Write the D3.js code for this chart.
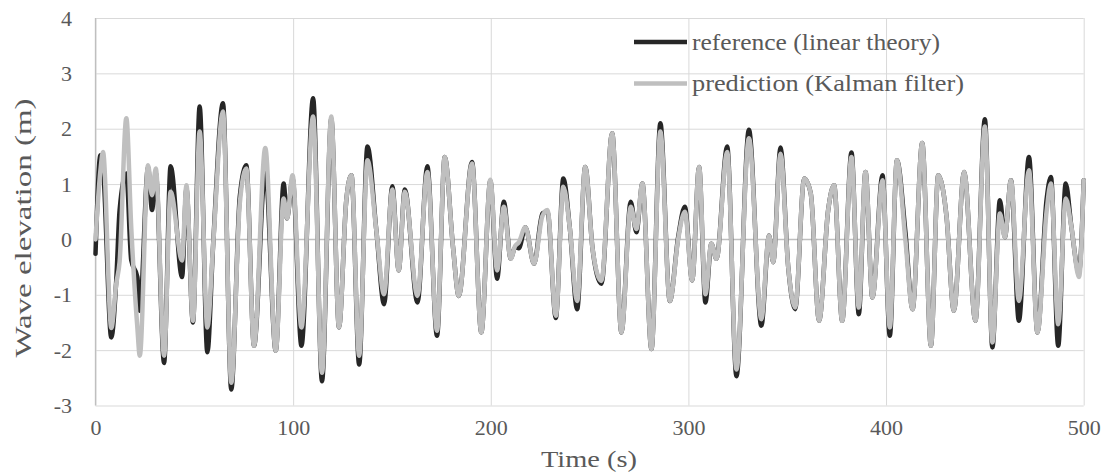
<!DOCTYPE html>
<html>
<head>
<meta charset="utf-8">
<script src="https://cdn.jsdelivr.net/npm/d3@7"></script>
<style>
  html, body { margin: 0; padding: 0; background: #fff; }
  svg { display: block; }
</style>
</head>
<body>
<svg id="chart" width="1110" height="475"></svg>
<script>
// Sample times (s) at crests, troughs and inflections of the record
const times = [0, 2.5, 3.8, 8.0, 10.5, 12.2, 15.6, 18.1, 21.2, 22.4,
  26.6, 28.6, 30.5, 34.7, 38.0, 43.8, 46.0, 49.3, 52.7, 56.6,
  59.5, 64.5, 68.7, 73.0, 76.3, 80.2, 85.9, 91.2, 95.2, 96.9,
  99.7, 104.2, 110.1, 114.6, 119.3, 123.2, 126.9, 129.5, 133.4, 137.6,
  142.1, 146.0, 150.2, 153.4, 156.5, 162.9, 167.9, 172.8, 176.7, 180.9,
  183.8, 190.5, 195.2, 199.8, 203.2, 206.6, 210.1, 212.3, 214.2, 217.5,
  221.9, 226.1, 228.7, 232.9, 236.7, 240.0, 243.7, 247.8, 251.5, 256.0,
  261.4, 266.1, 270.8, 273.7, 276.7, 281.3, 285.8, 290.6, 294.8, 298.2,
  301.9, 305.4, 308.6, 311.6, 314.2, 319.6, 324.3, 330.6, 336.9, 340.8,
  342.9, 346.6, 350.5, 354.0, 358.6, 361.9, 366.1, 370.7, 373.7, 377.8,
  382.5, 386.2, 389.6, 393.1, 398.2, 401.9, 405.5, 409.8, 413.4, 418.3,
  422.7, 426.4, 430.6, 434.3, 439.5, 445.2, 450.0, 453.8, 457.6, 460.1,
  463.2, 467.2, 472.3, 476.6, 481.2, 483.4, 487.1, 490.9, 493.8, 497.6,
  500];

// Wave elevation (m): linear-theory reference
const referenceElev = [-0.26, 1.52, 1.30, -1.77, -0.74, 0.53, 1.19, -0.38, -0.68, -1.29,
  1.30, 0.53, 1.20, -2.23, 1.32, -0.68, 0.92, -1.50, 2.40, -2.04,
  -0.11, 2.46, -2.71, 0.77, 1.34, -1.92, 1.25, -2.01, 1.01, 0.38,
  1.10, -1.92, 2.55, -2.56, 2.18, -1.59, 0.71, 1.16, -2.26, 1.68,
  0.16, -1.17, 0.96, -0.56, 0.90, -1.14, 1.32, -1.74, 1.49, -0.14,
  -1.02, 1.40, -1.68, 1.06, -0.71, 0.68, -0.35, -0.14, -0.16, 0.22,
  -0.44, 0.47, 0.50, -1.42, 1.10, 0.20, -1.26, 1.31, -0.17, -0.80,
  1.92, -1.68, 0.68, 0.13, 1.01, -1.98, 2.10, -1.11, 0.04, 0.59,
  -0.74, 1.31, -1.14, -0.08, -0.35, 1.68, -2.47, 1.98, -1.56, 0.07,
  -0.41, 1.66, -0.50, -1.26, 1.10, 0.83, -1.47, 0.53, 0.98, -1.47,
  1.57, -1.35, 1.22, -1.05, 1.16, -1.74, 1.43, 0.13, -1.26, 1.74,
  -1.92, 1.16, 0.41, -1.29, 1.22, -1.47, 2.17, -1.95, 0.71, 0.04,
  1.07, -1.47, 1.49, -1.68, 0.71, 1.13, -1.92, 1.01, 0.22, -0.60,
  1.07];

// Wave elevation (m): Kalman filter prediction
const predictionElev = [0.00, 1.25, 1.58, -1.60, -0.80, -0.40, 2.19, 0.20, -1.60, -2.10,
  1.34, 0.80, 1.28, -2.10, 0.86, -0.38, 0.98, -1.47, 1.95, -1.59,
  -0.11, 2.31, -2.59, 0.65, 1.28, -1.92, 1.65, -2.01, 0.74, 0.38,
  1.16, -1.59, 2.22, -2.41, 2.22, -1.59, 0.71, 1.16, -2.10, 1.43,
  0.16, -0.99, 0.90, -0.56, 0.86, -1.02, 1.22, -1.65, 1.49, -0.14,
  -1.02, 1.37, -1.68, 1.08, -0.56, 0.59, -0.35, -0.12, -0.05, 0.22,
  -0.44, 0.42, 0.53, -1.38, 0.95, 0.20, -1.11, 1.31, -0.17, -0.75,
  1.92, -1.68, 0.59, 0.19, 1.01, -1.98, 1.95, -1.11, 0.00, 0.50,
  -0.74, 1.31, -0.99, -0.08, -0.35, 1.58, -2.35, 1.83, -1.44, 0.07,
  -0.41, 1.55, -0.50, -1.23, 1.10, 0.83, -1.47, 0.53, 0.98, -1.47,
  1.49, -1.23, 1.22, -1.05, 1.07, -1.59, 1.43, -0.02, -1.26, 1.74,
  -1.92, 1.16, 0.41, -1.29, 1.22, -1.47, 2.04, -1.86, 0.47, 0.04,
  1.07, -1.11, 1.25, -1.68, 0.50, 1.01, -1.53, 0.74, 0.22, -0.68,
  1.07];

const xTicks = [0, 100, 200, 300, 400, 500];
const yTicks = [-3, -2, -1, 0, 1, 2, 3, 4];
const seriesNames = ["reference (linear theory)", "prediction (Kalman filter)"];

const FONT = "'Liberation Serif', 'Times New Roman', 'DejaVu Serif', serif";
const TEXT_COLOR = "#595959";

const svg = d3.select("#chart");
const plot = { left: 95.5, right: 1083.7, top: 18, bottom: 405.5 };

const x = d3.scaleLinear().domain([0, 500]).range([plot.left, plot.right]);
const y = d3.scaleLinear().domain([-3, 4]).range([plot.bottom, plot.top]);

// Horizontal gridlines + y tick labels
const yAxis = svg.append("g")
  .attr("transform", `translate(${plot.left},0)`)
  .call(d3.axisLeft(y).tickValues(yTicks).tickFormat(d => String(d))
    .tickSize(-(plot.right - plot.left)).tickPadding(23.5));
yAxis.attr("font-family", null).attr("font-size", null);
yAxis.select(".domain").remove();
yAxis.selectAll(".tick line").attr("stroke", "#d9d9d9").attr("stroke-width", 1);
yAxis.selectAll(".tick text")
  .style("font-family", FONT).style("font-size", "22px").attr("fill", TEXT_COLOR);

// Vertical gridlines + x tick labels
const xAxis = svg.append("g")
  .attr("transform", `translate(0,${plot.bottom})`)
  .call(d3.axisBottom(x).tickValues(xTicks).tickFormat(d => String(d))
    .tickSize(-(plot.bottom - plot.top)).tickPadding(14));
xAxis.attr("font-family", null).attr("font-size", null);
xAxis.select(".domain").remove();
xAxis.selectAll(".tick line").attr("stroke", "#d9d9d9").attr("stroke-width", 1);
xAxis.selectAll(".tick text")
  .style("font-family", FONT).style("font-size", "22px").attr("fill", TEXT_COLOR);

// Axis lines: zero line and left value axis
svg.append("line")
  .attr("x1", plot.left).attr("x2", plot.right)
  .attr("y1", y(0)).attr("y2", y(0))
  .attr("stroke", "#bfbfbf").attr("stroke-width", 1.3);
svg.append("line")
  .attr("x1", plot.left).attr("x2", plot.left)
  .attr("y1", plot.top).attr("y2", plot.bottom)
  .attr("stroke", "#bfbfbf").attr("stroke-width", 1.3);

// Series
const lineGen = vals => d3.line()
  .x((d, i) => x(times[i]))
  .y(d => y(d))
  .curve(d3.curveMonotoneX)(vals);

svg.append("path")
  .attr("d", lineGen(referenceElev))
  .attr("fill", "none").attr("stroke", "#262626")
  .attr("stroke-width", 4.5).attr("stroke-linejoin", "round").attr("stroke-linecap", "round");

svg.append("path")
  .attr("d", lineGen(predictionElev))
  .attr("fill", "none").attr("stroke", "#bfbfbf")
  .attr("stroke-width", 4.5).attr("stroke-linejoin", "round").attr("stroke-linecap", "round");

// Legend
const legend = [
  { name: seriesNames[0], color: "#262626", y: 42, len: 248 },
  { name: seriesNames[1], color: "#bfbfbf", y: 83.5, len: 272 }
];
legend.forEach(l => {
  svg.append("line")
    .attr("x1", 634).attr("x2", 687).attr("y1", l.y).attr("y2", l.y)
    .attr("stroke", l.color).attr("stroke-width", 4.5).attr("stroke-linecap", "butt");
  svg.append("text")
    .attr("x", 692).attr("y", l.y)
    .attr("dominant-baseline", "central")
    .attr("textLength", l.len).attr("lengthAdjust", "spacingAndGlyphs")
    .style("font-family", FONT).style("font-size", "23px").attr("fill", TEXT_COLOR)
    .text(l.name);
});

// Axis titles
svg.append("text")
  .attr("x", 589).attr("y", 459)
  .attr("text-anchor", "middle").attr("dominant-baseline", "central")
  .attr("textLength", 96).attr("lengthAdjust", "spacingAndGlyphs")
  .style("font-family", FONT).style("font-size", "23px").attr("fill", TEXT_COLOR)
  .text("Time (s)");

svg.append("text")
  .attr("transform", "translate(23.5,228) rotate(-90)")
  .attr("text-anchor", "middle").attr("dominant-baseline", "central")
  .attr("textLength", 259).attr("lengthAdjust", "spacingAndGlyphs")
  .style("font-family", FONT).style("font-size", "23px").attr("fill", TEXT_COLOR)
  .text("Wave elevation (m)");
</script>
</body>
</html>
